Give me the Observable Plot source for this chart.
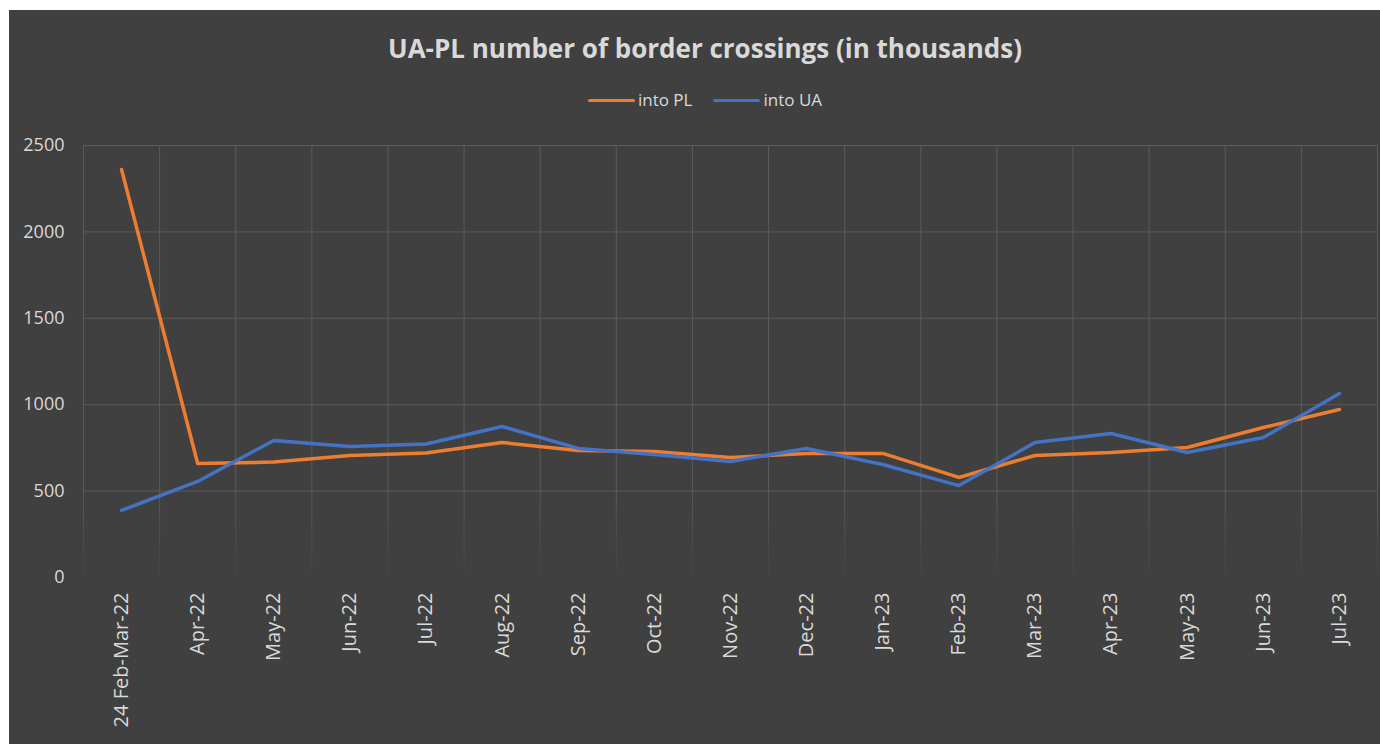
<!DOCTYPE html>
<html><head><meta charset="utf-8">
<script src="https://cdn.jsdelivr.net/npm/d3@7"></script>
<script src="https://cdn.jsdelivr.net/npm/@observablehq/plot@0.6"></script>
<style>
body{margin:0;background:#fff;width:1380px;height:744px;overflow:hidden;font-family:"Open Sans",sans-serif;}
#panel{position:absolute;left:9px;top:10px;width:1371px;height:734px;background:#404040;overflow:hidden;}
#title{position:absolute;left:0;width:1392px;top:21px;text-align:center;color:#d9d9d9;font-size:26px;font-weight:bold;line-height:34px;white-space:nowrap;}
#legend{position:absolute;top:78px;left:0;width:1392px;height:24px;display:flex;justify-content:center;align-items:center;color:#d9d9d9;font-size:17px;line-height:24px;}
.item{display:flex;align-items:center;}
.item + .item{margin-left:21px;}
.sw{display:inline-block;width:47px;height:3px;border-radius:2px;margin-right:3px;}
#chart{position:absolute;left:0;top:115px;}
</style>
</head><body>
<div id="panel">
  <div id="title">UA-PL number of border crossings (in thousands)</div>
  <div id="legend"></div>
  <div id="chart"></div>
</div>
<script>
const categories = ["24 Feb-Mar-22","Apr-22","May-22","Jun-22","Jul-22","Aug-22","Sep-22","Oct-22","Nov-22","Dec-22","Jan-23","Feb-23","Mar-23","Apr-23","May-23","Jun-23","Jul-23"];
const intoPL = [2361, 660, 668, 706, 721, 781, 735, 729, 694, 718, 718, 579, 706, 723, 752, 868, 972];
const intoUA = [388, 556, 793, 758, 773, 874, 747, 712, 671, 747, 654, 532, 781, 833, 723, 810, 1065];
const yTicks = [0, 500, 1000, 1500, 2000, 2500];
const seriesNames = ["into PL", "into UA"];
const seriesColors = ["#ED7D31", "#4472C4"];

const idx = categories.map((_, i) => i);
const rowsPL = idx.map(i => ({i, v: intoPL[i]}));
const rowsUA = idx.map(i => ({i, v: intoUA[i]}));
const vGrid = idx.map(i => i - 0.5).concat([categories.length - 0.5]);

// legend
const legend = document.getElementById("legend");
seriesNames.forEach((n, k) => {
  const it = document.createElement("div");
  it.className = "item";
  it.innerHTML = `<span class="sw" style="background:${seriesColors[k]}"></span><span>${n}</span>`;
  legend.appendChild(it);
});

const gridColor = "#5a5a5a";
const chart = Plot.plot({
  width: 1371,
  height: 619,
  marginLeft: 74,
  marginRight: 3,
  marginTop: 20,
  marginBottom: 167,
  style: {background: "transparent", color: "#d9d9d9", fontSize: "18px", fontFamily: "'Open Sans', sans-serif"},
  x: {domain: [-0.5, categories.length - 0.5], ticks: idx, tickFormat: i => categories[i], tickRotate: -90, tickSize: 0, tickPadding: 15, label: null},
  y: {domain: [0, 2500], ticks: yTicks, tickFormat: d => String(d), tickSize: 0, tickPadding: 19, label: null},
  marks: [
    Plot.ruleY(yTicks.filter(t => t > 0), {stroke: gridColor, strokeWidth: 1}),
    Plot.ruleX(vGrid, {y1: 0, y2: 2500, stroke: "url(#vgrad)", strokeWidth: 1}),
    Plot.line(rowsPL, {x: "i", y: "v", stroke: seriesColors[0], strokeWidth: 3.5, strokeLinejoin: "round", strokeLinecap: "round"}),
    Plot.line(rowsUA, {x: "i", y: "v", stroke: seriesColors[1], strokeWidth: 3.5, strokeLinejoin: "round", strokeLinecap: "round"})
  ]
});
d3.select(chart).selectAll('g[aria-label^="x-axis"]').attr("font-size", 20).selectAll("text").attr("font-size", 20);
const ys = chart.scale("y");
const yTop = ys.apply(2500), yBot = ys.apply(0);
const defs = d3.select(chart).insert("defs", ":first-child");
const g = defs.append("linearGradient").attr("id", "vgrad").attr("gradientUnits", "userSpaceOnUse")
  .attr("x1", 0).attr("x2", 0).attr("y1", yTop).attr("y2", yBot);
g.append("stop").attr("offset", 0).attr("stop-color", gridColor).attr("stop-opacity", 1);
g.append("stop").attr("offset", 0.8).attr("stop-color", gridColor).attr("stop-opacity", 1);
g.append("stop").attr("offset", 1).attr("stop-color", gridColor).attr("stop-opacity", 0.1);
document.getElementById("chart").appendChild(chart);
</script>
</body></html>
